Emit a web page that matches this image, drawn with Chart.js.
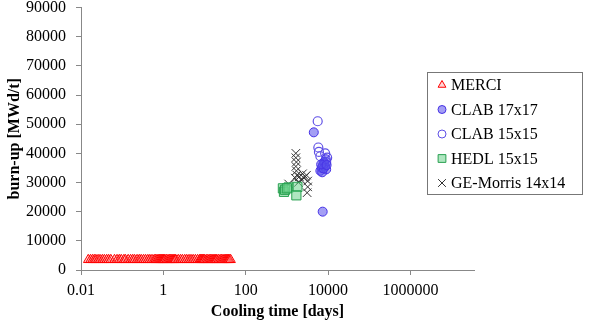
<!DOCTYPE html>
<html>
<head>
<meta charset="utf-8">
<script src="https://cdn.jsdelivr.net/npm/chart.js@4/dist/chart.umd.min.js"></script>
<style>
  html, body { margin: 0; padding: 0; background: #fff; }
  #wrap { width: 592px; height: 323px; position: relative; }
</style>
</head>
<body>
<div id="wrap"><canvas id="canvas"></canvas></div>
<script>
"use strict";

// data (x = cooling time in days, y = burn-up MWd/t)
const merciDays = [0.015, 0.017, 0.019, 0.021, 0.023, 0.026, 0.029, 0.033, 0.037, 0.042, 0.047, 0.053,
  0.065, 0.075, 0.085, 0.095, 0.11, 0.12, 0.14, 0.16, 0.18, 0.2, 0.23, 0.26, 0.29, 0.33, 0.37, 0.42, 0.47, 0.53, 0.6,
  0.65, 0.7, 0.75, 0.8, 0.85, 0.9, 0.95, 1.0, 1.05, 1.1, 1.2, 1.3, 1.4, 1.5, 1.6, 1.7, 1.8, 1.9, 2.0,
  2.3, 2.6, 2.9, 3.3, 3.7, 4.2, 4.7, 5.3, 6, 6.8, 7.6,
  8, 8.5, 9, 9.5, 10, 11, 12, 13, 14, 15, 16, 17, 18, 19, 20, 22, 24, 26, 28, 30, 32, 34, 36, 38, 40, 43];
const merciBurnup = 3500;

const clab17Days = [4500, 6500, 7000, 7500, 8000, 8500, 9000, 7200, 8200, 8800, 7800, 6800, 9200, 7400];
const clab17Burnup = [47200, 34000, 35000, 36000, 37000, 35500, 34500, 33500, 36500, 38000, 34800, 36200, 36000, 20000];

const clab15Days = [5600, 5800, 6000, 8500, 9500, 9000, 6500];
const clab15Burnup = [51000, 42000, 40500, 40000, 38500, 37000, 39000];

const hedlDays = [800, 850, 900, 1100, 1800, 1700, 1000];
const hedlBurnup = [28000, 26800, 27500, 28300, 28500, 25600, 28000];

const geDays = [1650, 1650, 1700, 1650, 1700, 1750, 1600, 1100, 2000, 2400, 2800, 3000, 3200, 3200, 3100, 2200, 2600, 1900];
const geBurnup = [40000, 38500, 37000, 35500, 34000, 32500, 31500, 29500, 32000, 33000, 32000, 32500, 30500, 28500, 26500, 31000, 31500, 30000];

const xTicks = [0.01, 1, 100, 10000, 1000000];

function pts(xs, ys) {
  let out = [];
  for (let i = 0; i < xs.length; i++) {
    out.push({ x: xs[i], y: Array.isArray(ys) ? ys[i] : ys });
  }
  return out;
}

const serif = "'Liberation Serif', 'Times New Roman', serif";

// legend drawn as a box over the plot, like the original
const boxLegend = {
  id: "boxLegend",
  afterDraw(chart) {
    const ctx = chart.ctx;
    const x0 = 427, y0 = 72, w = 155, h = 122;
    ctx.save();
    ctx.fillStyle = "#fff";
    ctx.fillRect(x0, y0, w, h);
    ctx.strokeStyle = "#777";
    ctx.lineWidth = 1;
    ctx.strokeRect(x0 + 0.5, y0 + 0.5, w, h);
    chart.data.datasets.forEach((ds, i) => {
      const y = 85 + i * 24.5;
      ctx.fillStyle = ds.backgroundColor;
      ctx.strokeStyle = ds.borderColor;
      ctx.lineWidth = 1;
      Chart.helpers.drawPoint(ctx, {
        pointStyle: ds.pointStyle,
        radius: ds.legendRadius,
        borderWidth: 1,
        rotation: 0
      }, 442, y);
      ctx.fillStyle = "#000";
      ctx.font = "16px " + serif;
      ctx.textAlign = "left";
      ctx.textBaseline = "middle";
      ctx.fillText(ds.label, 451, y + 1);
    });
    ctx.restore();
  }
};

new Chart(document.getElementById("canvas"), {
  type: "scatter",
  data: {
    datasets: [
      {
        label: "MERCI",
        data: pts(merciDays, merciBurnup),
        pointStyle: "triangle",
        pointRadius: 5.5,
        borderWidth: 1,
        borderColor: "rgb(255, 0, 0)",
        backgroundColor: "rgba(255, 120, 120, 0.3)",
        legendRadius: 4.5
      },
      {
        label: "CLAB 17x17",
        data: pts(clab17Days, clab17Burnup),
        pointStyle: "circle",
        pointRadius: 4.5,
        borderWidth: 1,
        borderColor: "rgb(70, 50, 230)",
        backgroundColor: "rgba(90, 80, 235, 0.55)",
        legendRadius: 4
      },
      {
        label: "CLAB 15x15",
        data: pts(clab15Days, clab15Burnup),
        pointStyle: "circle",
        pointRadius: 4.5,
        borderWidth: 1.2,
        borderColor: "rgb(95, 80, 230)",
        backgroundColor: "rgba(255, 255, 255, 0)",
        legendRadius: 4
      },
      {
        label: "HEDL 15x15",
        data: pts(hedlDays, hedlBurnup),
        pointStyle: "rect",
        pointRadius: 6.5,
        borderWidth: 1,
        borderColor: "rgb(40, 160, 80)",
        backgroundColor: "rgba(110, 210, 140, 0.55)",
        legendRadius: 5.5
      },
      {
        label: "GE-Morris 14x14",
        data: pts(geDays, geBurnup),
        pointStyle: "crossRot",
        pointRadius: 6,
        borderWidth: 1,
        borderColor: "rgb(50, 50, 50)",
        backgroundColor: "rgb(50, 50, 50)",
        legendRadius: 5.5
      }
    ]
  },
  options: {
    responsive: true,
    maintainAspectRatio: false,
    animation: false,
    layout: { padding: { top: 7, right: 118, left: 0, bottom: 0 } },
    plugins: {
      legend: { display: false },
      tooltip: { enabled: false }
    },
    scales: {
      x: {
        type: "logarithmic",
        min: 0.01,
        max: 3.5e7,
        afterBuildTicks: (scale) => {
          scale.ticks = xTicks.map((v) => ({ value: v, major: true }));
        },
        afterFit: (scale) => { scale.height = 53; },
        ticks: {
          autoSkip: false,
          maxRotation: 0,
          color: "#000",
          padding: 6,
          font: { family: serif, size: 16 },
          callback: (v) => String(v)
        },
        grid: { drawOnChartArea: false, drawTicks: true, tickLength: 5, color: "#888" },
        border: { color: "#888" },
        title: {
          display: true,
          text: "Cooling time [days]",
          color: "#000",
          padding: { top: 0, bottom: 2 },
          font: { family: serif, size: 16, weight: "bold" }
        }
      },
      y: {
        min: 0,
        max: 90000,
        afterFit: (scale) => {
          scale.width = 81;
          scale.paddingTop = 0;
          scale.paddingBottom = 0;
        },
        ticks: {
          stepSize: 10000,
          color: "#000",
          padding: 10,
          font: { family: serif, size: 16 },
          callback: (v) => String(v)
        },
        grid: { drawOnChartArea: false, drawTicks: true, tickLength: 5, color: "#888" },
        border: { color: "#888" },
        title: {
          display: true,
          text: "burn-up [MWd/t]",
          color: "#000",
          padding: { top: 5, bottom: 0 },
          font: { family: serif, size: 16, weight: "bold" }
        }
      }
    }
  },
  plugins: [boxLegend]
});
</script>
</body>
</html>
